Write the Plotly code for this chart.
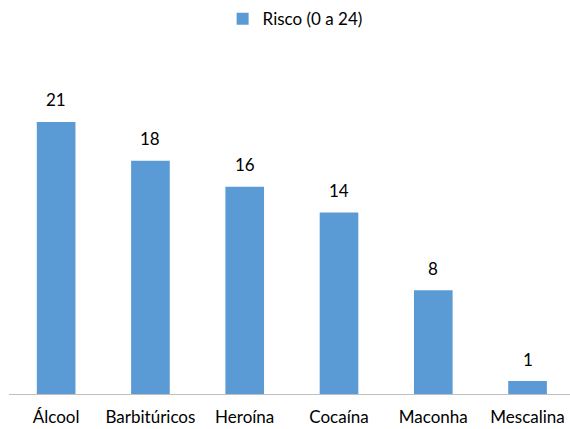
import plotly.graph_objects as go

categories = ["Álcool", "Barbitúricos", "Heroína", "Cocaína", "Maconha", "Mescalina"]
values = [21, 18, 16, 14, 8, 1]
series_name = "Risco (0 a 24)"

FONT = "Lato"
FS = 17

fig = go.Figure()
fig.add_trace(go.Bar(
    x=categories, y=values, name=series_name,
    marker=dict(color="#5b9bd5", line=dict(width=0)),
    width=0.41,
))

for c, v in zip(categories, values):
    fig.add_annotation(x=c, y=v, text=str(v), showarrow=False,
                       yanchor="middle", yshift=22,
                       font=dict(family=FONT, size=FS, color="#000000"))

fig.update_layout(
    width=570, height=429,
    margin=dict(l=9, r=0, t=83, b=35, autoexpand=False),
    paper_bgcolor="white", plot_bgcolor="white",
    font=dict(family=FONT, size=FS, color="#000000"),
    showlegend=True,
    legend=dict(orientation="h", x=0.51, xanchor="center", yref="container",
                y=0.955, yanchor="middle",
                font=dict(family=FONT, size=FS, color="#000000"),
                itemwidth=30),
    xaxis=dict(range=[-0.5, 5.45], showline=True, linecolor="#bfbfbf", linewidth=1,
               showgrid=False, ticks="outside", ticklen=8, tickcolor="rgba(0,0,0,0)",
               automargin=False,
               tickfont=dict(family=FONT, size=FS, color="#000000")),
    yaxis=dict(range=[0, 24], visible=False, showgrid=False, automargin=False),
)

fig.write_html("out.html")
